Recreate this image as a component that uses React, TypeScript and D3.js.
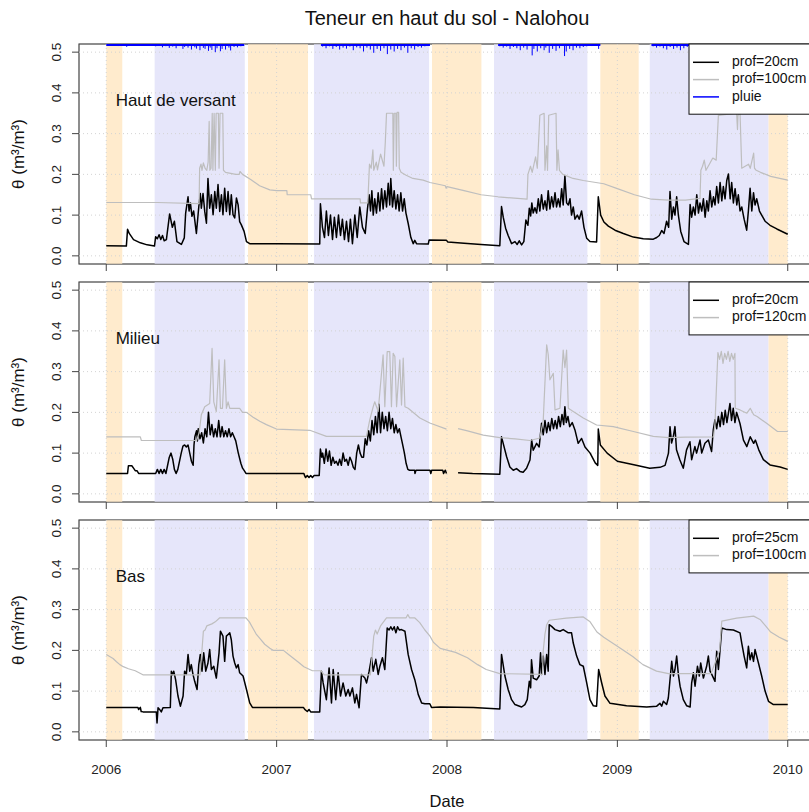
import * as d3 from "d3";

type Pt = [number, number | null];

// --- axes ---
const years = [2006, 2007, 2008, 2009, 2010];
const yTicks = [0, 0.1, 0.2, 0.3, 0.4, 0.5];

// --- seasons (decimal years) ---
const dryBands: [number, number][] = [
  [2006.0, 2006.094],
  [2006.832, 2007.184],
  [2007.912, 2008.202],
  [2008.9, 2009.125],
  [2009.886, 2010.0],
];
const wetBands: [number, number][] = [
  [2006.284, 2006.813],
  [2007.219, 2007.895],
  [2008.276, 2008.824],
  [2009.19, 2009.886],
];

// --- rain (pluie), mm ---
const rainSeasons: [number, number][] = [
  [2006.0, 2006.81],
  [2007.26, 2007.9],
  [2008.3, 2008.9],
  [2009.2, 2010.0],
];
const rain: [number, number][] = [
  [2006.07, 8], [2006.09, 5], [2006.12, 14], [2006.29, 10], [2006.31, 6], [2006.33, 18], [2006.35, 9],
  [2006.37, 22], [2006.39, 12], [2006.41, 25], [2006.43, 8], [2006.45, 30], [2006.46, 15], [2006.48, 20],
  [2006.5, 35], [2006.52, 18], [2006.53, 28], [2006.55, 40], [2006.57, 22], [2006.58, 30], [2006.6, 45],
  [2006.61, 20], [2006.62, 38], [2006.64, 55], [2006.65, 25], [2006.67, 48], [2006.68, 30], [2006.7, 35],
  [2006.72, 20], [2006.73, 42], [2006.75, 15], [2006.77, 18], [2006.79, 10],
  [2007.27, 12], [2007.29, 25], [2007.31, 10], [2007.33, 30], [2007.35, 15], [2007.37, 35], [2007.39, 20],
  [2007.41, 28], [2007.43, 12], [2007.45, 40], [2007.47, 18], [2007.49, 25], [2007.51, 50], [2007.53, 20],
  [2007.55, 35], [2007.57, 60], [2007.59, 30], [2007.61, 45], [2007.63, 25], [2007.65, 70], [2007.67, 35],
  [2007.69, 50], [2007.71, 30], [2007.73, 40], [2007.75, 20], [2007.77, 60], [2007.79, 25], [2007.81, 35],
  [2007.83, 15], [2007.85, 20], [2007.87, 10],
  [2008.31, 10], [2008.33, 20], [2008.35, 12], [2008.37, 30], [2008.39, 15], [2008.41, 25], [2008.43, 40],
  [2008.45, 20], [2008.47, 35], [2008.5, 80], [2008.51, 30], [2008.53, 50], [2008.55, 25], [2008.57, 40],
  [2008.58, 20], [2008.6, 60], [2008.62, 30], [2008.64, 45], [2008.66, 25], [2008.69, 85], [2008.7, 50],
  [2008.72, 30], [2008.74, 40], [2008.76, 20], [2008.78, 25], [2008.8, 15], [2008.82, 10], [2008.85, 8],
  [2008.89, 30],
  [2009.21, 10], [2009.23, 20], [2009.25, 12], [2009.27, 25], [2009.29, 35], [2009.31, 15], [2009.33, 30],
  [2009.35, 20], [2009.37, 40], [2009.39, 25], [2009.41, 15], [2009.45, 30], [2009.5, 40], [2009.6, 50],
  [2009.7, 35], [2009.8, 20],
];

// --- Haut de versant ---
const hautP20: Pt[] = [
  [2006.0, 0.025], [2006.118, 0.024], [2006.125, 0.065], [2006.135, 0.055], [2006.16, 0.04], [2006.2, 0.032],
  [2006.24, 0.027], [2006.283, 0.024], [2006.29, 0.047], [2006.3, 0.042], [2006.31, 0.052], [2006.32, 0.04],
  [2006.33, 0.05], [2006.34, 0.037], [2006.353, 0.04], [2006.372, 0.103], [2006.388, 0.07], [2006.4, 0.085],
  [2006.415, 0.035], [2006.441, 0.028], [2006.458, 0.044], [2006.466, 0.105], [2006.48, 0.145], [2006.486, 0.11],
  [2006.494, 0.13], [2006.503, 0.097], [2006.513, 0.11], [2006.529, 0.055], [2006.543, 0.12], [2006.552, 0.153],
  [2006.558, 0.117], [2006.568, 0.153], [2006.578, 0.109], [2006.588, 0.08], [2006.597, 0.19], [2006.607, 0.117],
  [2006.617, 0.15], [2006.627, 0.101], [2006.637, 0.158], [2006.646, 0.117], [2006.656, 0.175], [2006.666, 0.109],
  [2006.676, 0.15], [2006.685, 0.101], [2006.695, 0.166], [2006.705, 0.109], [2006.715, 0.158], [2006.725, 0.101],
  [2006.734, 0.15], [2006.744, 0.101], [2006.754, 0.093], [2006.764, 0.142], [2006.774, 0.125], [2006.783, 0.084],
  [2006.793, 0.076], [2006.809, 0.06], [2006.823, 0.035], [2006.842, 0.03], [2007.0, 0.03], [2007.253, 0.029],
  [2007.257, 0.128], [2007.269, 0.07], [2007.281, 0.045], [2007.292, 0.11], [2007.304, 0.05], [2007.316, 0.1],
  [2007.328, 0.04], [2007.339, 0.095], [2007.351, 0.045], [2007.363, 0.1], [2007.375, 0.05], [2007.386, 0.09],
  [2007.398, 0.04], [2007.41, 0.085], [2007.422, 0.035], [2007.433, 0.09], [2007.445, 0.03], [2007.459, 0.1],
  [2007.473, 0.045], [2007.488, 0.12], [2007.504, 0.07], [2007.52, 0.055], [2007.533, 0.115], [2007.543, 0.15],
  [2007.551, 0.11], [2007.559, 0.16], [2007.567, 0.1], [2007.576, 0.14], [2007.586, 0.105], [2007.596, 0.155],
  [2007.606, 0.11], [2007.616, 0.165], [2007.625, 0.115], [2007.635, 0.16], [2007.645, 0.12], [2007.655, 0.178],
  [2007.664, 0.125], [2007.67, 0.19], [2007.68, 0.12], [2007.69, 0.16], [2007.7, 0.115], [2007.71, 0.15],
  [2007.719, 0.11], [2007.729, 0.155], [2007.739, 0.11], [2007.749, 0.14], [2007.759, 0.105], [2007.772, 0.08],
  [2007.788, 0.045], [2007.802, 0.03], [2007.811, 0.038], [2007.821, 0.03], [2007.89, 0.029], [2007.895, 0.039],
  [2007.997, 0.038], [2008.005, 0.034], [2008.1, 0.031], [2008.2, 0.028], [2008.31, 0.025],
  [2008.32, 0.121], [2008.33, 0.095], [2008.344, 0.068], [2008.359, 0.05], [2008.379, 0.03], [2008.399, 0.035],
  [2008.412, 0.028], [2008.424, 0.037], [2008.438, 0.027], [2008.451, 0.035], [2008.463, 0.088], [2008.475, 0.075],
  [2008.483, 0.117], [2008.491, 0.098], [2008.498, 0.13], [2008.506, 0.105], [2008.516, 0.118], [2008.526, 0.105],
  [2008.536, 0.14], [2008.545, 0.11], [2008.555, 0.15], [2008.565, 0.115], [2008.575, 0.135], [2008.585, 0.112],
  [2008.594, 0.16], [2008.604, 0.115], [2008.614, 0.145], [2008.624, 0.12], [2008.634, 0.155], [2008.643, 0.12],
  [2008.653, 0.14], [2008.663, 0.12], [2008.673, 0.165], [2008.682, 0.125], [2008.692, 0.197], [2008.702, 0.13],
  [2008.712, 0.125], [2008.722, 0.14], [2008.731, 0.1], [2008.741, 0.12], [2008.751, 0.09], [2008.765, 0.1],
  [2008.776, 0.09], [2008.79, 0.11], [2008.804, 0.07], [2008.82, 0.043], [2008.839, 0.035], [2008.878, 0.034],
  [2008.888, 0.145], [2008.902, 0.1], [2008.921, 0.083], [2008.947, 0.073], [2008.986, 0.063], [2009.035, 0.055],
  [2009.094, 0.046], [2009.152, 0.042], [2009.211, 0.041], [2009.231, 0.045], [2009.246, 0.05], [2009.26, 0.062],
  [2009.274, 0.055], [2009.289, 0.085], [2009.301, 0.07], [2009.309, 0.158], [2009.319, 0.09], [2009.329, 0.12],
  [2009.338, 0.1], [2009.348, 0.145], [2009.358, 0.1], [2009.372, 0.06], [2009.391, 0.035], [2009.417, 0.028],
  [2009.427, 0.126], [2009.436, 0.095], [2009.446, 0.12], [2009.456, 0.1], [2009.466, 0.15], [2009.476, 0.105],
  [2009.485, 0.13], [2009.495, 0.11], [2009.505, 0.14], [2009.515, 0.095], [2009.525, 0.135], [2009.534, 0.11],
  [2009.544, 0.16], [2009.554, 0.12], [2009.564, 0.145], [2009.573, 0.125], [2009.583, 0.17], [2009.593, 0.13],
  [2009.603, 0.18], [2009.613, 0.135], [2009.622, 0.17], [2009.632, 0.14], [2009.642, 0.185], [2009.652, 0.201],
  [2009.662, 0.14], [2009.671, 0.18], [2009.681, 0.13], [2009.691, 0.165], [2009.701, 0.125], [2009.71, 0.15],
  [2009.72, 0.11], [2009.73, 0.12], [2009.744, 0.09], [2009.759, 0.063], [2009.769, 0.11], [2009.779, 0.166],
  [2009.789, 0.11], [2009.799, 0.155], [2009.808, 0.125], [2009.818, 0.14], [2009.834, 0.11], [2009.847, 0.1],
  [2009.867, 0.085], [2009.896, 0.075], [2009.936, 0.066], [2010.0, 0.053],
];
const hautP100: Pt[] = [
  [2006.0, 0.131], [2006.3, 0.131], [2006.545, 0.128], [2006.548, 0.215], [2006.556, 0.225], [2006.562, 0.21],
  [2006.57, 0.228], [2006.58, 0.215], [2006.59, 0.21], [2006.598, 0.23], [2006.604, 0.33], [2006.608, 0.21],
  [2006.615, 0.215], [2006.622, 0.35], [2006.626, 0.21], [2006.633, 0.35], [2006.64, 0.21], [2006.645, 0.35],
  [2006.658, 0.35], [2006.662, 0.215], [2006.668, 0.35], [2006.684, 0.35], [2006.688, 0.21], [2006.7, 0.205],
  [2006.76, 0.2], [2006.78, 0.2], [2006.785, 0.207], [2006.8, 0.2], [2006.85, 0.187], [2006.9, 0.172],
  [2006.96, 0.162], [2007.0, 0.16], [2007.06, 0.16], [2007.062, 0.15], [2007.2, 0.15], [2007.205, 0.14],
  [2007.49, 0.14], [2007.492, 0.13], [2007.535, 0.13], [2007.545, 0.225], [2007.555, 0.215], [2007.565, 0.26],
  [2007.57, 0.21], [2007.585, 0.23], [2007.592, 0.211], [2007.61, 0.25], [2007.63, 0.22], [2007.638, 0.28],
  [2007.645, 0.35], [2007.682, 0.35], [2007.685, 0.21], [2007.69, 0.35], [2007.7, 0.35], [2007.703, 0.22],
  [2007.707, 0.352], [2007.716, 0.352], [2007.72, 0.215], [2007.73, 0.205], [2007.76, 0.198], [2007.8, 0.19],
  [2007.86, 0.186], [2007.9, 0.18], [2007.99, 0.172], [2007.995, 0.166], [2008.0, 0.17], [2008.1, 0.16],
  [2008.2, 0.15], [2008.3, 0.145], [2008.47, 0.139], [2008.475, 0.2], [2008.49, 0.22], [2008.5, 0.205],
  [2008.52, 0.243], [2008.53, 0.215], [2008.545, 0.345], [2008.57, 0.35], [2008.575, 0.21], [2008.585, 0.27],
  [2008.59, 0.21], [2008.597, 0.345], [2008.64, 0.35], [2008.645, 0.21], [2008.652, 0.26], [2008.66, 0.21],
  [2008.68, 0.2], [2008.74, 0.19], [2008.8, 0.185], [2008.92, 0.177], [2009.0, 0.165], [2009.1, 0.15],
  [2009.2, 0.139], [2009.3, 0.137], [2009.4, 0.137], [2009.485, 0.141], [2009.49, 0.21], [2009.5, 0.22],
  [2009.51, 0.235], [2009.52, 0.21], [2009.54, 0.225], [2009.56, 0.24], [2009.58, 0.235], [2009.593, 0.345],
  [2009.7, 0.35], [2009.705, 0.31], [2009.708, 0.345], [2009.72, 0.35], [2009.73, 0.215], [2009.75, 0.22],
  [2009.77, 0.225], [2009.78, 0.215], [2009.8, 0.252], [2009.805, 0.215], [2009.815, 0.21], [2009.84, 0.205],
  [2009.9, 0.195], [2010.0, 0.186],
];

// --- Milieu ---
const milP20: Pt[] = [
  [2006.0, 0.05], [2006.125, 0.05], [2006.13, 0.069], [2006.15, 0.069], [2006.16, 0.063], [2006.17, 0.057],
  [2006.18, 0.057], [2006.19, 0.05], [2006.29, 0.05], [2006.3, 0.06], [2006.31, 0.05], [2006.32, 0.06],
  [2006.33, 0.05], [2006.34, 0.06], [2006.35, 0.05], [2006.37, 0.09], [2006.38, 0.1], [2006.39, 0.085],
  [2006.4, 0.06], [2006.41, 0.05], [2006.42, 0.06], [2006.44, 0.1], [2006.45, 0.117], [2006.46, 0.12],
  [2006.47, 0.115], [2006.48, 0.12], [2006.49, 0.1], [2006.5, 0.08], [2006.51, 0.07], [2006.515, 0.12],
  [2006.52, 0.14], [2006.53, 0.155], [2006.535, 0.13], [2006.54, 0.16], [2006.55, 0.135], [2006.56, 0.15],
  [2006.57, 0.125], [2006.58, 0.16], [2006.59, 0.14], [2006.6, 0.2], [2006.61, 0.145], [2006.62, 0.17],
  [2006.63, 0.14], [2006.64, 0.16], [2006.65, 0.14], [2006.66, 0.18], [2006.67, 0.14], [2006.68, 0.165],
  [2006.69, 0.14], [2006.7, 0.155], [2006.71, 0.14], [2006.72, 0.16], [2006.73, 0.14], [2006.74, 0.15],
  [2006.75, 0.14], [2006.76, 0.13], [2006.775, 0.1], [2006.79, 0.075], [2006.8, 0.063], [2006.81, 0.057],
  [2006.82, 0.05], [2007.16, 0.05], [2007.165, 0.044], [2007.17, 0.04], [2007.18, 0.045], [2007.19, 0.04],
  [2007.2, 0.045], [2007.21, 0.04], [2007.22, 0.045], [2007.25, 0.045], [2007.257, 0.11], [2007.265, 0.09],
  [2007.27, 0.1], [2007.28, 0.075], [2007.29, 0.11], [2007.3, 0.08], [2007.31, 0.105], [2007.32, 0.07],
  [2007.33, 0.09], [2007.34, 0.075], [2007.35, 0.08], [2007.36, 0.07], [2007.37, 0.085], [2007.38, 0.07],
  [2007.39, 0.1], [2007.4, 0.08], [2007.41, 0.085], [2007.42, 0.07], [2007.43, 0.09], [2007.44, 0.08],
  [2007.45, 0.065], [2007.46, 0.06], [2007.47, 0.1], [2007.48, 0.12], [2007.49, 0.1], [2007.5, 0.09],
  [2007.51, 0.09], [2007.52, 0.135], [2007.53, 0.12], [2007.54, 0.155], [2007.55, 0.13], [2007.56, 0.18],
  [2007.57, 0.145], [2007.58, 0.19], [2007.59, 0.15], [2007.6, 0.22], [2007.61, 0.15], [2007.62, 0.2],
  [2007.63, 0.16], [2007.64, 0.19], [2007.65, 0.155], [2007.66, 0.2], [2007.67, 0.16], [2007.68, 0.185],
  [2007.69, 0.15], [2007.7, 0.17], [2007.71, 0.15], [2007.72, 0.16], [2007.73, 0.14], [2007.74, 0.12],
  [2007.75, 0.1], [2007.76, 0.075], [2007.77, 0.06], [2007.78, 0.058], [2007.81, 0.058], [2007.812, 0.05],
  [2007.818, 0.058], [2007.9, 0.058], [2007.905, 0.05], [2007.91, 0.058], [2007.975, 0.058], [2007.98, 0.05],
  [2007.99, 0.058], [2007.997, 0.05], [2008.03, null], [2008.065, 0.052], [2008.15, 0.05], [2008.31, 0.048],
  [2008.32, 0.14], [2008.35, 0.091], [2008.369, 0.066], [2008.389, 0.058], [2008.408, 0.062], [2008.428, 0.055],
  [2008.447, 0.053], [2008.467, 0.063], [2008.487, 0.083], [2008.497, 0.132], [2008.506, 0.107], [2008.526, 0.124],
  [2008.541, 0.115], [2008.555, 0.173], [2008.565, 0.145], [2008.575, 0.18], [2008.585, 0.15], [2008.595, 0.175],
  [2008.605, 0.155], [2008.615, 0.185], [2008.625, 0.16], [2008.635, 0.18], [2008.645, 0.16], [2008.655, 0.19],
  [2008.665, 0.165], [2008.675, 0.195], [2008.685, 0.17], [2008.692, 0.214], [2008.7, 0.175], [2008.71, 0.19],
  [2008.72, 0.165], [2008.735, 0.175], [2008.751, 0.157], [2008.77, 0.124], [2008.79, 0.136], [2008.81, 0.115],
  [2008.84, 0.1], [2008.87, 0.076], [2008.885, 0.07], [2008.888, 0.159], [2008.9, 0.12], [2008.94, 0.1],
  [2009.0, 0.08], [2009.09, 0.072], [2009.19, 0.063], [2009.25, 0.065], [2009.28, 0.07], [2009.3, 0.1],
  [2009.309, 0.165], [2009.318, 0.125], [2009.328, 0.14], [2009.338, 0.165], [2009.347, 0.108], [2009.367, 0.083],
  [2009.387, 0.063], [2009.406, 0.108], [2009.426, 0.128], [2009.436, 0.084], [2009.455, 0.116], [2009.465, 0.1],
  [2009.485, 0.132], [2009.495, 0.1], [2009.514, 0.124], [2009.534, 0.132], [2009.553, 0.104], [2009.563, 0.157],
  [2009.573, 0.182], [2009.583, 0.16], [2009.593, 0.19], [2009.603, 0.165], [2009.613, 0.2], [2009.623, 0.17],
  [2009.633, 0.205], [2009.643, 0.175], [2009.661, 0.222], [2009.67, 0.18], [2009.68, 0.21], [2009.69, 0.175],
  [2009.7, 0.2], [2009.72, 0.172], [2009.74, 0.132], [2009.76, 0.116], [2009.78, 0.14], [2009.8, 0.124],
  [2009.81, 0.132], [2009.83, 0.108], [2009.857, 0.084], [2009.896, 0.071], [2009.955, 0.066], [2010.0, 0.06],
];
const milP120: Pt[] = [
  [2006.0, 0.14], [2006.2, 0.14], [2006.206, 0.131], [2006.53, 0.131], [2006.545, 0.15], [2006.558, 0.194],
  [2006.578, 0.214], [2006.607, 0.222], [2006.621, 0.357], [2006.631, 0.226], [2006.646, 0.202], [2006.662, 0.329],
  [2006.67, 0.21], [2006.682, 0.21], [2006.695, 0.329], [2006.705, 0.21], [2006.715, 0.226], [2006.725, 0.21],
  [2006.783, 0.21], [2006.8, 0.2], [2006.823, 0.2], [2006.862, 0.188], [2006.901, 0.178], [2006.94, 0.17],
  [2006.999, 0.159], [2007.195, 0.156], [2007.292, 0.141], [2007.527, 0.141], [2007.547, 0.182], [2007.567, 0.214],
  [2007.576, 0.226], [2007.596, 0.202], [2007.625, 0.341], [2007.635, 0.214], [2007.649, 0.349], [2007.664, 0.349],
  [2007.674, 0.214], [2007.684, 0.345], [2007.694, 0.337], [2007.704, 0.214], [2007.723, 0.329], [2007.733, 0.218],
  [2007.743, 0.333], [2007.753, 0.214], [2007.772, 0.21], [2007.841, 0.186], [2007.899, 0.174], [2007.997, 0.159],
  [2008.03, null], [2008.065, 0.16], [2008.115, 0.155], [2008.213, 0.144], [2008.31, 0.138], [2008.4, 0.135],
  [2008.487, 0.131], [2008.545, 0.137], [2008.565, 0.181], [2008.585, 0.366], [2008.594, 0.342], [2008.604, 0.28],
  [2008.624, 0.296], [2008.634, 0.206], [2008.663, 0.21], [2008.682, 0.353], [2008.692, 0.31], [2008.702, 0.353],
  [2008.712, 0.21], [2008.741, 0.202], [2008.8, 0.186], [2008.878, 0.169], [2008.976, 0.165], [2009.094, 0.153],
  [2009.211, 0.141], [2009.3, 0.138], [2009.4, 0.139], [2009.565, 0.14], [2009.573, 0.173], [2009.59, 0.347],
  [2009.6, 0.33], [2009.61, 0.35], [2009.62, 0.32], [2009.63, 0.345], [2009.64, 0.33], [2009.65, 0.35],
  [2009.66, 0.325], [2009.67, 0.345], [2009.68, 0.33], [2009.69, 0.345], [2009.692, 0.21], [2009.72, 0.206],
  [2009.76, 0.198], [2009.78, 0.21], [2009.8, 0.194], [2009.82, 0.19], [2009.88, 0.172], [2009.94, 0.153],
  [2010.0, 0.153],
];

// --- Bas ---
const basP25: Pt[] = [
  [2006.0, 0.06], [2006.186, 0.06], [2006.19, 0.055], [2006.2, 0.06], [2006.205, 0.05], [2006.216, 0.049],
  [2006.294, 0.049], [2006.298, 0.022], [2006.304, 0.059], [2006.313, 0.055], [2006.323, 0.049], [2006.333, 0.059],
  [2006.376, 0.06], [2006.382, 0.149], [2006.39, 0.14], [2006.396, 0.149], [2006.407, 0.128], [2006.421, 0.088],
  [2006.435, 0.063], [2006.451, 0.088], [2006.46, 0.149], [2006.47, 0.141], [2006.48, 0.19], [2006.49, 0.149],
  [2006.499, 0.165], [2006.509, 0.141], [2006.519, 0.124], [2006.533, 0.104], [2006.543, 0.165], [2006.552, 0.19],
  [2006.562, 0.149], [2006.572, 0.194], [2006.584, 0.149], [2006.597, 0.169], [2006.607, 0.202], [2006.617, 0.153],
  [2006.631, 0.161], [2006.646, 0.132], [2006.662, 0.194], [2006.67, 0.247], [2006.685, 0.235], [2006.695, 0.173],
  [2006.705, 0.235], [2006.715, 0.239], [2006.725, 0.243], [2006.734, 0.226], [2006.744, 0.186], [2006.754, 0.169],
  [2006.764, 0.157], [2006.774, 0.165], [2006.783, 0.145], [2006.803, 0.137], [2006.823, 0.104], [2006.842, 0.071],
  [2006.858, 0.06], [2007.157, 0.06], [2007.165, 0.055], [2007.18, 0.05], [2007.19, 0.055], [2007.2, 0.049],
  [2007.253, 0.049], [2007.263, 0.149], [2007.273, 0.12], [2007.292, 0.079], [2007.308, 0.157], [2007.322, 0.071],
  [2007.332, 0.153], [2007.347, 0.079], [2007.361, 0.145], [2007.375, 0.088], [2007.39, 0.12], [2007.406, 0.088],
  [2007.42, 0.104], [2007.43, 0.088], [2007.445, 0.108], [2007.459, 0.071], [2007.469, 0.092], [2007.484, 0.059],
  [2007.498, 0.141], [2007.518, 0.132], [2007.528, 0.12], [2007.543, 0.149], [2007.557, 0.182], [2007.567, 0.149],
  [2007.582, 0.178], [2007.596, 0.141], [2007.606, 0.161], [2007.621, 0.182], [2007.635, 0.153], [2007.649, 0.255],
  [2007.66, 0.25], [2007.67, 0.258], [2007.68, 0.25], [2007.69, 0.258], [2007.7, 0.243], [2007.71, 0.258],
  [2007.72, 0.25], [2007.733, 0.251], [2007.753, 0.247], [2007.772, 0.19], [2007.792, 0.153], [2007.811, 0.128],
  [2007.831, 0.092], [2007.851, 0.071], [2007.87, 0.069], [2007.899, 0.069], [2007.909, 0.06], [2007.96, 0.061],
  [2008.154, 0.06], [2008.31, 0.056], [2008.32, 0.19], [2008.34, 0.137], [2008.359, 0.104], [2008.379, 0.079],
  [2008.399, 0.067], [2008.418, 0.064], [2008.438, 0.061], [2008.457, 0.067], [2008.471, 0.079], [2008.483, 0.124],
  [2008.491, 0.108], [2008.496, 0.177], [2008.506, 0.132], [2008.526, 0.128], [2008.541, 0.137], [2008.549, 0.194],
  [2008.555, 0.141], [2008.565, 0.186], [2008.575, 0.141], [2008.585, 0.19], [2008.594, 0.149], [2008.6, 0.263],
  [2008.614, 0.259], [2008.634, 0.251], [2008.663, 0.247], [2008.682, 0.251], [2008.712, 0.243], [2008.731, 0.243],
  [2008.741, 0.218], [2008.761, 0.186], [2008.78, 0.165], [2008.8, 0.161], [2008.82, 0.12], [2008.839, 0.079],
  [2008.859, 0.064], [2008.878, 0.063], [2008.89, 0.153], [2008.908, 0.12], [2008.927, 0.088], [2008.957, 0.07],
  [2009.054, 0.064], [2009.172, 0.061], [2009.231, 0.063], [2009.25, 0.07], [2009.26, 0.063], [2009.27, 0.075],
  [2009.289, 0.067], [2009.299, 0.083], [2009.309, 0.128], [2009.319, 0.173], [2009.329, 0.137], [2009.338, 0.153],
  [2009.348, 0.186], [2009.358, 0.141], [2009.368, 0.112], [2009.387, 0.079], [2009.407, 0.064], [2009.427, 0.061],
  [2009.436, 0.12], [2009.446, 0.145], [2009.456, 0.112], [2009.47, 0.161], [2009.481, 0.137], [2009.489, 0.169],
  [2009.505, 0.132], [2009.524, 0.161], [2009.534, 0.186], [2009.544, 0.149], [2009.554, 0.141], [2009.573, 0.124],
  [2009.583, 0.198], [2009.593, 0.153], [2009.603, 0.202], [2009.613, 0.255], [2009.642, 0.251], [2009.681, 0.25],
  [2009.72, 0.243], [2009.73, 0.218], [2009.744, 0.186], [2009.759, 0.157], [2009.769, 0.21], [2009.779, 0.177],
  [2009.789, 0.194], [2009.799, 0.173], [2009.808, 0.202], [2009.828, 0.169], [2009.847, 0.137], [2009.867, 0.1],
  [2009.887, 0.075], [2009.916, 0.067], [2010.0, 0.067],
];
const basP100: Pt[] = [
  [2006.0, 0.19], [2006.02, 0.185], [2006.04, 0.18], [2006.06, 0.172], [2006.08, 0.165], [2006.1, 0.16],
  [2006.13, 0.155], [2006.17, 0.15], [2006.215, 0.14], [2006.55, 0.14], [2006.56, 0.19], [2006.57, 0.247],
  [2006.58, 0.25], [2006.59, 0.26], [2006.62, 0.265], [2006.64, 0.27], [2006.666, 0.28], [2006.82, 0.28],
  [2006.84, 0.27], [2006.86, 0.255], [2006.88, 0.24], [2006.9, 0.23], [2006.93, 0.215], [2006.96, 0.205],
  [2006.98, 0.2], [2007.04, 0.2], [2007.07, 0.19], [2007.1, 0.18], [2007.13, 0.17], [2007.16, 0.16],
  [2007.21, 0.15], [2007.26, 0.15], [2007.28, 0.14], [2007.55, 0.14], [2007.56, 0.185], [2007.57, 0.235],
  [2007.58, 0.25], [2007.59, 0.24], [2007.61, 0.26], [2007.645, 0.28], [2007.76, 0.28], [2007.77, 0.288],
  [2007.78, 0.28], [2007.81, 0.28], [2007.84, 0.268], [2007.87, 0.25], [2007.9, 0.235], [2007.92, 0.22],
  [2007.96, 0.205], [2008.05, 0.195], [2008.12, 0.182], [2008.18, 0.165], [2008.23, 0.153], [2008.31, 0.143],
  [2008.56, 0.141], [2008.565, 0.2], [2008.575, 0.24], [2008.585, 0.263], [2008.6, 0.274], [2008.7, 0.279],
  [2008.8, 0.282], [2008.84, 0.27], [2008.88, 0.245], [2008.92, 0.232], [2009.0, 0.21], [2009.09, 0.185],
  [2009.15, 0.165], [2009.23, 0.149], [2009.3, 0.143], [2009.55, 0.143], [2009.6, 0.2], [2009.613, 0.272],
  [2009.7, 0.279], [2009.8, 0.284], [2009.84, 0.275], [2009.87, 0.26], [2009.9, 0.245], [2009.95, 0.232],
  [2010.0, 0.222],
];

const legendHaut = ["prof=20cm", "prof=100cm", "pluie"];
const legendMil = ["prof=20cm", "prof=120cm"];
const legendBas = ["prof=25cm", "prof=100cm"];

// --- layout ---
const W = 809;
const H = 812;
const PLOT_LEFT = 79;
const PLOT_RIGHT = 815;
const PANEL_H = 220;
const PANEL_TOPS = [44, 282, 520];
const FONT = "'Liberation Sans', Arial, Helvetica, sans-serif";
const BLACK = "#000000";
const GREY = "#BEBEBE";
const BLUE = "#0000FF";
const DRY = "#FFEBCD";
const WET = "#E6E6FA";

const x = d3.scaleLinear().domain([2006 - 0.16, 2010 + 0.16]).range([PLOT_LEFT, PLOT_RIGHT]);
const rainDepth = d3.scaleLinear().domain([0, 100]).range([0, 13]);

type PanelDef = {
  label: string;
  surf: Pt[];
  deep: Pt[];
  legend: string[];
  withRain: boolean;
};

const panels: PanelDef[] = [
  { label: "Haut de versant", surf: hautP20, deep: hautP100, legend: legendHaut, withRain: true },
  { label: "Milieu", surf: milP20, deep: milP120, legend: legendMil, withRain: false },
  { label: "Bas", surf: basP25, deep: basP100, legend: legendBas, withRain: false },
];

const legendColors = [BLACK, GREY, BLUE];

function Panel({ def, top, index, last }: { def: PanelDef; top: number; index: number; last: boolean }) {
  const bottom = top + PANEL_H;
  const y = d3.scaleLinear().domain([-0.02, 0.52]).range([bottom, top]);
  const line = d3
    .line<Pt>()
    .defined((d) => d[1] != null)
    .x((d) => x(d[0]))
    .y((d) => y(d[1] as number));
  const clipId = `clip-${index}`;
  const legendX = 689;
  const step = 17.3;

  return (
    <g>
      <defs>
        <clipPath id={clipId}>
          <rect x={PLOT_LEFT} y={top} width={PLOT_RIGHT - PLOT_LEFT} height={PANEL_H} />
        </clipPath>
      </defs>

      {/* box, under the season bands */}
      <rect x={PLOT_LEFT} y={top} width={PLOT_RIGHT - PLOT_LEFT} height={PANEL_H} fill="none" stroke="#444" strokeWidth={1} />

      {/* seasons */}
      {dryBands.map(([a, b], i) => (
        <rect key={`d${i}`} x={x(a)} y={top} width={x(b) - x(a)} height={PANEL_H} fill={DRY} />
      ))}
      {wetBands.map(([a, b], i) => (
        <rect key={`w${i}`} x={x(a)} y={top} width={x(b) - x(a)} height={PANEL_H} fill={WET} />
      ))}

      {/* faint box over the bands */}
      <rect
        x={PLOT_LEFT}
        y={top}
        width={PLOT_RIGHT - PLOT_LEFT}
        height={PANEL_H}
        fill="none"
        stroke="#444"
        strokeOpacity={0.4}
        strokeWidth={1}
      />

      {/* grid */}
      {yTicks.map((t) => (
        <line key={`gy${t}`} x1={PLOT_LEFT} x2={PLOT_RIGHT} y1={y(t)} y2={y(t)} stroke="#D3D3D3" strokeDasharray="1 3" />
      ))}
      {years.map((yr) => (
        <line key={`gx${yr}`} x1={x(yr)} x2={x(yr)} y1={top} y2={bottom} stroke="#D3D3D3" strokeDasharray="1 3" />
      ))}

      {/* series */}
      <g clipPath={`url(#${clipId})`}>
        <path d={line(def.surf) ?? ""} fill="none" stroke={BLACK} strokeWidth={1.5} strokeLinejoin="round" />
        <path d={line(def.deep) ?? ""} fill="none" stroke={GREY} strokeWidth={1.2} strokeLinejoin="round" />
        {def.withRain && (
          <g stroke={BLUE} strokeWidth={1}>
            {rainSeasons.map(([a, b], i) => (
              <line key={`rs${i}`} x1={x(a)} x2={x(b)} y1={top + 1} y2={top + 1} strokeWidth={2} />
            ))}
            {rain.map(([t, mm], i) => (
              <line key={`r${i}`} x1={x(t)} x2={x(t)} y1={top} y2={top + 1 + rainDepth(mm)} />
            ))}
          </g>
        )}
      </g>

      {/* y axis */}
      {yTicks.map((t) => (
        <g key={`ty${t}`}>
          <line x1={PLOT_LEFT - 7} x2={PLOT_LEFT} y1={y(t)} y2={y(t)} stroke="#444" />
          <text
            transform={`translate(57,${y(t)}) rotate(-90)`}
            textAnchor="middle"
            dominantBaseline="middle"
            fontSize={13.5}
            fill="#222"
          >
            {t.toFixed(1)}
          </text>
        </g>
      ))}
      <text
        transform={`translate(20,${top + PANEL_H / 2}) rotate(-90)`}
        textAnchor="middle"
        dominantBaseline="middle"
        fontSize={17}
        fill="#111"
      >
        θ (m³/m³)
      </text>

      {/* x ticks */}
      {years.map((yr) => (
        <g key={`tx${yr}`}>
          <line x1={x(yr)} x2={x(yr)} y1={bottom} y2={bottom + 7} stroke="#444" />
          {last && (
            <text x={x(yr)} y={bottom + 30} textAnchor="middle" dominantBaseline="middle" fontSize={13.5} fill="#222">
              {yr}
            </text>
          )}
        </g>
      ))}

      {/* panel label */}
      <text x={x(2006.055)} y={y(0.38)} dominantBaseline="middle" fontSize={17} fill="#111">
        {def.label}
      </text>

      {/* legend */}
      <rect
        x={legendX}
        y={top}
        width={140}
        height={18.3 + (def.legend.length - 1) * step + 17.3}
        fill="#fff"
        stroke="#111"
        strokeWidth={1}
      />
      {def.legend.map((lab, i) => {
        const ly = top + 18.3 + i * step;
        return (
          <g key={lab}>
            <line x1={legendX + 4} x2={legendX + 30} y1={ly} y2={ly} stroke={legendColors[i]} strokeWidth={1.5} />
            <text x={legendX + 43} y={ly} dominantBaseline="middle" fontSize={14} fill="#111">
              {lab}
            </text>
          </g>
        );
      })}
    </g>
  );
}

export default function App() {
  return (
    <div style={{ position: "absolute", left: 0, top: 0 }}>
      <svg width={W} height={H} style={{ display: "block", fontFamily: FONT, background: "#fff" }}>
        <rect width={W} height={H} fill="#fff" />
        <text x={447} y={20} textAnchor="middle" dominantBaseline="middle" fontSize={20} fill="#111">
          Teneur en haut du sol - Nalohou
        </text>
        {panels.map((p, i) => (
          <Panel key={p.label} def={p} top={PANEL_TOPS[i]} index={i} last={i === panels.length - 1} />
        ))}
        <text x={447} y={803} textAnchor="middle" dominantBaseline="middle" fontSize={16.5} fill="#111">
          Date
        </text>
      </svg>
    </div>
  );
}
